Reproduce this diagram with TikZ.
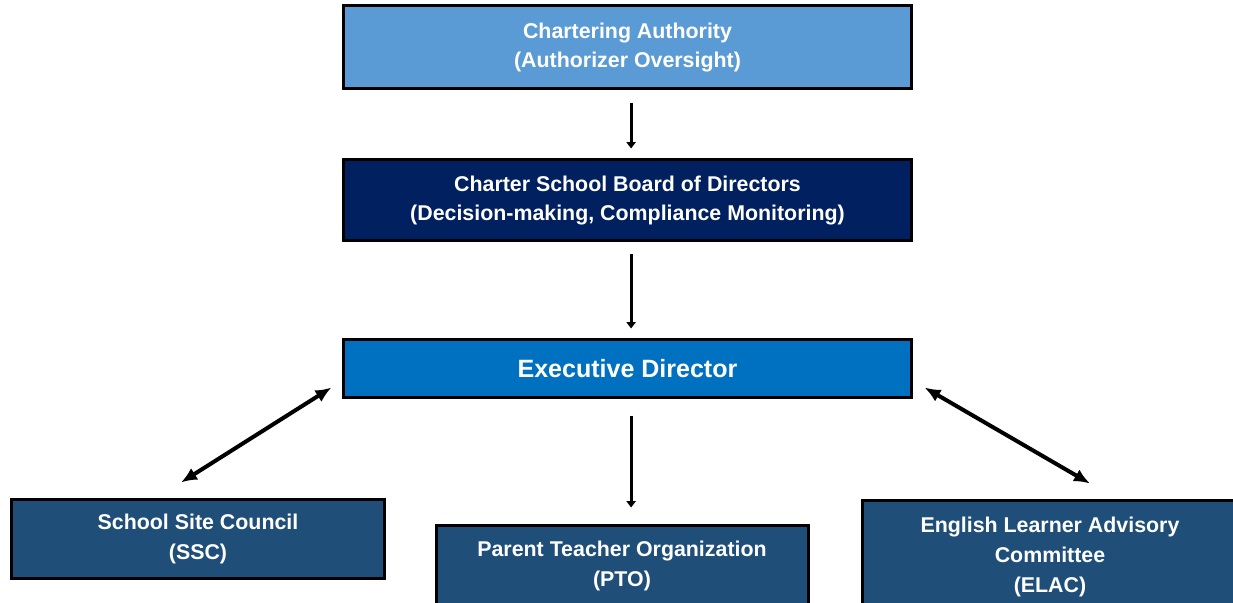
\documentclass[tikz,border=0pt]{standalone}
\usepackage{fontspec}
\setmainfont{Liberation Sans}
\usepackage{tikz}
\usetikzlibrary{arrows.meta, positioning, calc}
\definecolor{govLight}{RGB}{91,155,213}
\definecolor{govNavy}{RGB}{0,32,96}
\definecolor{govExec}{RGB}{0,112,192}
\definecolor{govGroup}{RGB}{31,78,121}

\begin{document}
\begin{tikzpicture}[x=0.25mm,y=-0.25mm,
  box/.style={draw=black,line width=0.75mm,text=white,align=center,
              font=\fontsize{15.2}{21.3}\selectfont\bfseries,inner sep=0pt},
  tier/.style={box,minimum width=141.75mm},
  group/.style={box,fill=govGroup,minimum width=93mm},
  down/.style={-{Triangle[length=1.6mm,width=2.3mm]},line width=0.75mm,
               shorten <=#1},
  both/.style={{Latex[length=4mm,width=3.4mm]}-{Latex[length=4mm,width=3.4mm]},
               line width=1mm}]

\useasboundingbox (0,0) rectangle (1233,603);
\clip (0,0) rectangle (1233,603);

% Oversight chain
\node[tier,fill=govLight,minimum height=20.75mm] (auth) at (627.5,47.5)
   {Chartering Authority\\(Authorizer Oversight)};
\node[tier,fill=govNavy,minimum height=20.25mm] (board) at (627.5,200.5)
   {Charter School Board of Directors\\(Decision-making, Compliance Monitoring)};
\node[tier,fill=govExec,minimum height=14.25mm,
      font=\fontsize{17.8}{21.3}\selectfont\bfseries] (exec) at (627.5,368.5)
   {Executive Director};

% Advisory groups
\node[group,minimum height=19.75mm] (ssc) at (198,538.5)
   {School Site Council\\(SSC)};
\node[group,minimum height=20.5mm] (pto) at (622,566)
   {Parent Teacher Organization\\(PTO)};
\node[group,minimum width=94mm,minimum height=28.5mm] (elac) at (1050,557)
   {English Learner Advisory\\Committee\\(ELAC)};

% Arrows
\draw[down=3.25mm,shorten >=2.5mm] ([xshift=0.9mm]auth.south) -- ([xshift=0.9mm]board.north);
\draw[down=3mm,shorten >=2.5mm] ([xshift=0.9mm]board.south) -- ([xshift=0.9mm]exec.north);
\draw[down=4.25mm,shorten >=4mm] ([xshift=0.9mm]exec.south) -- ([xshift=0.9mm]exec.south |- pto.north);
\draw[both] ($(exec.south west)+(-11,-11)$) -- ($(ssc.north)+(-17,-15)$);
\draw[both] ($(exec.south east)+(12,-11)$) -- ($(elac.north)+(40,-15)$);
\end{tikzpicture}
\end{document}
